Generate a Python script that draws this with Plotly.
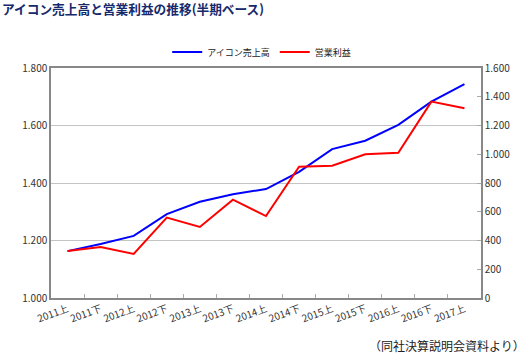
import plotly.graph_objects as go

categories = ["2011上", "2011下", "2012上", "2012下", "2013上", "2013下", "2014上",
              "2014下", "2015上", "2015下", "2016上", "2016下", "2017上"]
sales = [1.163, 1.188, 1.216, 1.292, 1.335, 1.361, 1.379,
         1.439, 1.518, 1.547, 1.602, 1.683, 1.744]
profit = [327, 355, 306, 559, 494, 684, 570,
          913, 920, 1000, 1011, 1366, 1320]
left_ticks = [1.0, 1.2, 1.4, 1.6, 1.8]
left_labels = ["1.000", "1.200", "1.400", "1.600", "1.800"]
right_ticks = [0, 200, 400, 600, 800, 1000, 1200, 1400, 1600]
right_labels = ["0", "200", "400", "600", "800", "1.000", "1.200", "1.400", "1.600"]

FONT = "Noto Sans CJK JP"
fig = go.Figure()
fig.add_trace(go.Scatter(x=categories, y=sales, name="アイコン売上高", mode="lines",
                         line=dict(color="#0000ff", width=2), yaxis="y"))
fig.add_trace(go.Scatter(x=categories, y=profit, name="営業利益", mode="lines",
                         line=dict(color="#ff0000", width=2), yaxis="y2"))

fig.update_layout(
    width=528, height=355,
    margin=dict(l=51, r=47, t=68, b=57, autoexpand=False),
    paper_bgcolor="white", plot_bgcolor="white",
    font=dict(family=FONT, size=10, color="#333333"),
    showlegend=True,
    legend=dict(orientation="h", x=0.49, xanchor="center", y=1.0 + 16/230, yanchor="middle",
                font=dict(size=9, color="#222222"), itemwidth=30,
                bgcolor="rgba(0,0,0,0)", tracegroupgap=0),
    xaxis=dict(type="category", showline=True, linecolor="#888888", linewidth=1.5,
               mirror=True, ticks="inside", ticklen=4, tickcolor="#aaaaaa",
               tickson="boundaries", showgrid=False, tickangle=-20, automargin=False,
               tickfont=dict(size=10, color="#333333"), range=[-0.5, 12.5]),
    yaxis=dict(range=[1.0, 1.8], tickvals=left_ticks, ticktext=left_labels,
               showgrid=True, gridcolor="#c4c4c4", gridwidth=1, automargin=False,
               showline=True, linecolor="#888888", linewidth=1.5, zeroline=False,
               tickfont=dict(size=10, color="#333333")),
    yaxis2=dict(range=[0, 1600], tickvals=right_ticks, ticktext=right_labels,
                overlaying="y", side="right", showgrid=False, automargin=False,
                showline=True, linecolor="#888888", linewidth=1.5, zeroline=False,
                ticks="inside", ticklen=4, tickcolor="#aaaaaa",
                tickfont=dict(size=10, color="#333333")),
    annotations=[
        dict(text="<b>アイコン売上高と営業利益の推移(半期ベース)</b>", xref="paper", yref="paper",
             x=-51/430, y=1.0 + 59/230, xanchor="left", yanchor="middle", showarrow=False,
             font=dict(size=12.7, color="#16296b", family=FONT)),
        dict(text="（同社決算説明会資料より）", xref="paper", yref="paper",
             x=1.0 + 46/430, y=-47/230, xanchor="right", yanchor="middle", showarrow=False,
             font=dict(size=12, color="#222222", family=FONT)),
    ],
)

fig.write_html("out.html", config={"displayModeBar": False},
               post_script="document.body.style.margin='0';document.body.style.overflow='hidden';")
